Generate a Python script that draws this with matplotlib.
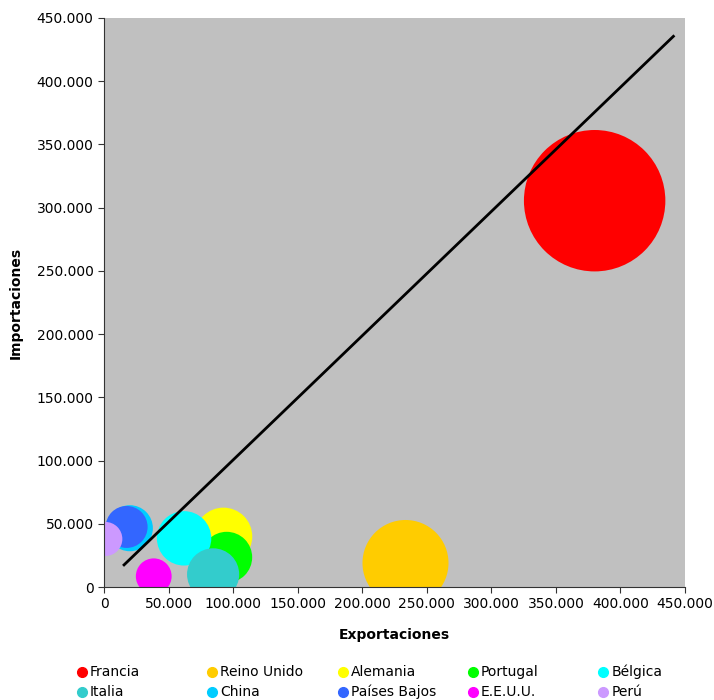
import matplotlib.pyplot as plt
from matplotlib.lines import Line2D
from matplotlib.ticker import FuncFormatter, MultipleLocator

# Datos de exportaciones / importaciones por país
paises = ["Francia", "Reino Unido", "Alemania", "Portugal", "Bélgica",
          "Italia", "China", "Países Bajos", "E.E.U.U.", "Perú"]
exportaciones = [380000, 233500, 92500, 95000, 62000,
                 84500, 20000, 17500, 38500, 1000]
importaciones = [305500, 19000, 40000, 23500, 38500,
                 10000, 46500, 47500, 8500, 38000]
tamanos = [5000, 1850, 830, 650, 740, 680, 530, 440, 320, 290]
colores = ["#FF0000", "#FFCC00", "#FFFF00", "#00FF00", "#00FFFF",
           "#33CCCC", "#00CCFF", "#3366FF", "#FF00FF", "#CC99FF"]

# Línea de tendencia
tendencia_x = [15500, 441000]
tendencia_y = [17500, 435500]

fig = plt.figure(figsize=(7.14, 7.0), dpi=100)
ax = fig.add_axes([0.1457, 0.1614, 0.8137, 0.8129])
ax.set_facecolor("#C0C0C0")

# Escala: tamaño -> área en puntos^2
escala = (2 * 0.72) ** 2
for x, y, t, c in zip(exportaciones, importaciones, tamanos, colores):
    ax.scatter(x, y, s=t * escala, color=c, edgecolors="none", zorder=2)

ax.plot(tendencia_x, tendencia_y, color="black", lw=2, zorder=3)

ax.set_xlim(0, 450000)
ax.set_ylim(0, 450000)
ax.xaxis.set_major_locator(MultipleLocator(50000))
ax.yaxis.set_major_locator(MultipleLocator(50000))
fmt = FuncFormatter(lambda v, p: f"{v:,.0f}".replace(",", "."))
ax.xaxis.set_major_formatter(fmt)
ax.yaxis.set_major_formatter(fmt)
ax.tick_params(labelsize=10, direction="out", length=4, color="#333333")

for lado in ["top", "right"]:
    ax.spines[lado].set_visible(False)
for lado in ["left", "bottom"]:
    ax.spines[lado].set_color("#333333")

ax.set_xlabel("Exportaciones", fontsize=10, fontweight="bold", labelpad=12)
ax.set_ylabel("Importaciones", fontsize=10, fontweight="bold", labelpad=10)

# Leyenda manual en 2 filas x 5 columnas
for i, (nombre, c) in enumerate(zip(paises, colores)):
    col = i % 5
    fila = i // 5
    x0 = (82 + col * 130.3) / 714
    y0 = 1 - (672 + fila * 20) / 700
    fig.add_artist(Line2D([x0], [y0], marker="o", color=c, markersize=7,
                          linestyle="none", transform=fig.transFigure))
    fig.text(x0 + 8 / 714, y0, nombre, fontsize=10, va="center", ha="left")

fig.savefig("out.png", dpi=100)
